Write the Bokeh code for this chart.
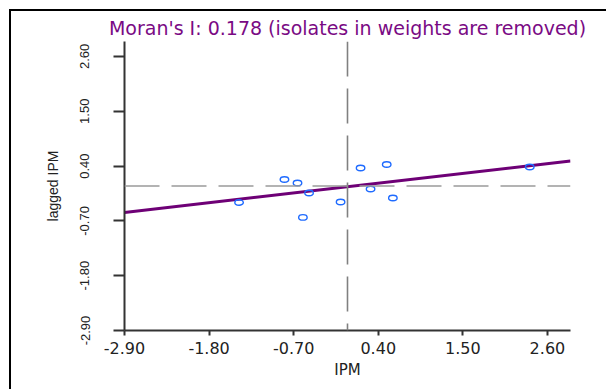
from bokeh.plotting import figure
from bokeh.models import Range1d, FixedTicker, PrintfTickFormatter, Span, ColumnDataSource, InlineStyleSheet
from bokeh.embed import file_html
from bokeh.resources import INLINE

# ---- data ----
ipm = [-1.41, -0.82, -0.65, -0.50, -0.58, -0.09, 0.17, 0.51, 0.30, 0.59, 2.37]
lagged_ipm = [-0.33, 0.13, 0.06, -0.14, -0.63, -0.32, 0.36, 0.43, -0.06, -0.24, 0.38]
morans_i = 0.178          # slope of the regression line
intercept = -0.015
x_mean = 0.0
y_mean = 0.0
tick_values = [-2.90, -1.80, -0.70, 0.40, 1.50, 2.60]
axis_limits = [-2.9, 2.9]
title_text = "Moran's I: 0.178 (isolates in weights are removed)"

p = figure(width=606, height=389, output_backend="svg", toolbar_location=None,
           x_range=Range1d(axis_limits[0], axis_limits[1]),
           y_range=Range1d(axis_limits[0], axis_limits[1]),
           min_border_left=124, min_border_right=36,
           min_border_top=41, min_border_bottom=59,
           title=title_text)
p.background_fill_color = "white"
p.border_fill_color = "white"
p.outline_line_color = None
p.xgrid.visible = False
p.ygrid.visible = False

p.title.align = "center"
p.title.text_font = "DejaVu Sans"
p.title.text_font_size = "19px"
p.title.text_font_style = "normal"
p.title.text_color = "#7a0a84"
p.title.standoff = 6

for ax in (p.xaxis[0], p.yaxis[0]):
    ax.ticker = FixedTicker(ticks=tick_values)
    ax.formatter = PrintfTickFormatter(format="%.2f")
    ax.axis_line_color = "#333333"
    ax.axis_line_width = 2
    ax.major_tick_line_color = "#333333"
    ax.major_tick_line_width = 2
    ax.major_tick_in = 0
    ax.minor_tick_line_color = None
    ax.major_label_text_color = "#222222"
    ax.axis_label_text_color = "#222222"
    ax.axis_label_text_font_style = "normal"

p.xaxis.axis_label = "IPM"
p.xaxis.major_tick_out = 5
p.xaxis.major_label_standoff = 6
p.xaxis.major_label_text_font = "DejaVu Sans"
p.xaxis.major_label_text_font_size = "16px"
p.xaxis.axis_label_text_font = "DejaVu Sans"
p.xaxis.axis_label_text_font_size = "15px"
p.xaxis.axis_label_standoff = 4

p.yaxis.axis_label = "lagged IPM"
p.yaxis.major_tick_out = 11
p.yaxis.major_label_orientation = "vertical"
p.yaxis.major_label_standoff = 24
p.yaxis.major_label_text_font = "Liberation Sans"
p.yaxis.major_label_text_font_size = "13px"
p.yaxis.axis_label_text_font = "Liberation Sans"
p.yaxis.axis_label_text_font_size = "14px"
p.yaxis.axis_label_standoff = 17

# reference lines at the means
p.add_layout(Span(location=x_mean, dimension="height", line_color="#808080",
                  line_width=1.6, line_dash="35 12"))
p.add_layout(Span(location=y_mean, dimension="width", line_color="#9a9a9a",
                  line_width=1.6, line_dash="35 12"))

# regression line (slope = Moran's I)
reg_x = list(axis_limits)
reg_y = [intercept + morans_i * v for v in reg_x]
p.line(reg_x, reg_y, line_color="#6e0076", line_width=3)

# points
src = ColumnDataSource(dict(x=ipm, y=lagged_ipm))
p.ellipse(x="x", y="y", width=8.5, height=5.5, source=src,
          width_units="screen", height_units="screen",
          fill_color=None, line_color="#1f6bff", line_width=1.4)

# outer frame of the figure panel (left and top edges of the boxed figure)
p.stylesheets = [InlineStyleSheet(css="""
:host { position: relative; }
:host::after {
  content: "";
  position: absolute;
  left: 9px; top: 9px;
  width: 597px; height: 380px;
  box-sizing: border-box;
  border-left: 2px solid #000;
  border-top: 2px solid #000;
  pointer-events: none;
  z-index: 10;
}
""")]

open("out.html", "w").write(file_html(p, INLINE))
